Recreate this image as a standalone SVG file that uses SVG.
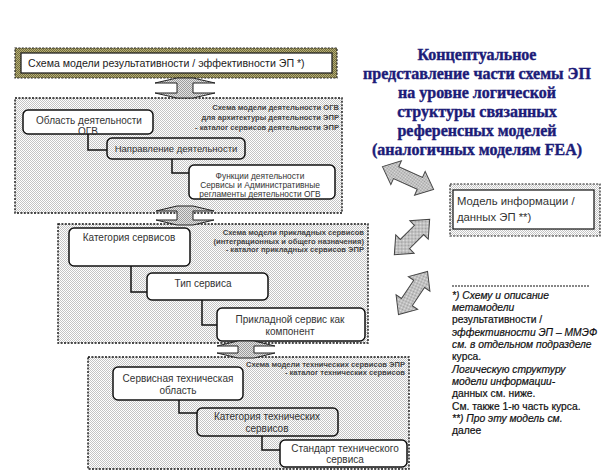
<svg xmlns="http://www.w3.org/2000/svg" width="610" height="471" viewBox="0 0 610 471">
<defs>
<pattern id="dots" width="2" height="2" patternUnits="userSpaceOnUse"><rect width="2" height="2" fill="#fff"/><rect width="1" height="1" fill="#c4c4c4"/><rect x="1" y="1" width="1" height="1" fill="#c4c4c4"/></pattern>
<pattern id="olive" width="2" height="2" patternUnits="userSpaceOnUse"><rect width="2" height="2" fill="#b4ad78"/><rect width="1" height="1" fill="#746e3c"/><rect x="1" y="1" width="1" height="1" fill="#746e3c"/></pattern>
<pattern id="grey" width="2" height="2" patternUnits="userSpaceOnUse"><rect width="2" height="2" fill="#e4e4e4"/><rect width="1" height="1" fill="#9c9c9c"/><rect x="1" y="1" width="1" height="1" fill="#9c9c9c"/></pattern>
<style>
.panel{fill:url(#dots);stroke:#111;stroke-width:1.4;stroke-dasharray:2 1.4}
.box{fill:#fff;stroke:#111;stroke-width:1.5}
.boxd{fill:url(#dots);stroke:#111;stroke-width:1.5}
.lbl{font-family:"Liberation Sans",Arial,sans-serif;font-size:10px;fill:#333;text-anchor:middle}
.ttl{font-family:"Liberation Sans",Arial,sans-serif;font-size:7.6px;font-weight:bold;fill:#444;text-anchor:end}
.conn{fill:none;stroke:#111;stroke-width:1.5}
.varr{fill:url(#grey);stroke:#222;stroke-width:1}
.darr{fill:url(#grey);stroke:#444;stroke-width:1}
.head{font-family:"Liberation Serif","Times New Roman",serif;font-size:16px;font-weight:bold;fill:#1c1c78;stroke:#1c1c78;stroke-width:0.4;text-anchor:middle}
.note{font-family:"Liberation Sans",Arial,sans-serif;font-size:10.3px;fill:#111;stroke:#111;stroke-width:0.2}
</style>
</defs>

<g id="top-model">
<rect x="15" y="48" width="322" height="30" fill="url(#olive)" stroke="#222" stroke-width="1.2" stroke-dasharray="2 1.4"/>
<rect x="21" y="53" width="311" height="20" fill="#fff" stroke="#222" stroke-width="1.3"/>
<text x="28" y="67" style="font-family:'Liberation Sans',Arial,sans-serif;font-size:10.6px;fill:#222">Схема модели результативности / эффективности ЭП *)</text>
</g>

<g id="panel-activity">
<rect class="panel" x="15" y="98" width="327" height="115"/>
<text class="ttl" x="339" y="110">Схема  модели деятельности ОГВ</text>
<text class="ttl" x="339" y="120">для архитектуры  деятельности ЭПР</text>
<text class="ttl" x="339" y="130">- каталог сервисов деятельности ЭПР</text>
</g>
<g id="n-oblast">
<rect class="box" x="23" y="110" width="130" height="24" rx="5"/>
<text class="lbl" x="89" y="124">Область деятельности</text>
<text class="lbl" x="88" y="135">ОГВ</text>
</g>
<g id="n-napravlenie">
<rect class="boxd" x="107" y="138" width="138" height="21" rx="5"/>
<text class="lbl" x="176" y="152" style="font-size:9.5px">Направление  деятельности</text>
</g>
<g id="n-funkcii">
<rect class="box" x="189" y="165" width="146" height="34" rx="5"/>
<text class="lbl" x="260" y="179" style="font-size:8.4px">Функции деятельности</text>
<text class="lbl" x="260" y="188" style="font-size:8.4px">Сервисы и  Административные</text>
<text class="lbl" x="260" y="197" style="font-size:8.4px">регламенты  деятельности   ОГВ</text>
</g>

<g id="panel-apps">
<rect class="panel" x="58" y="224" width="310" height="119"/>
<text class="ttl" x="364" y="235">Схема  модели прикладных сервисов</text>
<text class="ttl" x="364" y="244">(интеграционных  и общего назначения)</text>
<text class="ttl" x="364" y="252">- каталог прикладных сервисов ЭПР</text>
</g>
<g id="n-kategoriya">
<rect class="box" x="69" y="228" width="121" height="38" rx="5"/>
<text class="lbl" x="129" y="241">Категория сервисов</text>
</g>
<g id="n-tip">
<rect class="box" x="147" y="273" width="121" height="27" rx="5"/>
<text class="lbl" x="203" y="287">Тип  сервиса</text>
</g>
<g id="n-prikladnoy">
<rect class="box" x="217" y="308" width="148" height="33" rx="5"/>
<text class="lbl" x="290" y="323">Прикладной  сервис как</text>
<text class="lbl" x="290" y="335">компонент</text>
</g>

<g id="panel-tech">
<rect class="panel" x="88" y="357" width="321" height="112"/>
<text class="ttl" x="405" y="367">Схема  модели технических сервисов ЭПР</text>
<text class="ttl" x="405" y="375">- каталог технических сервисов</text>
</g>
<g id="n-oblast-tech">
<rect class="box" x="113" y="367" width="130" height="33" rx="5"/>
<text class="lbl" x="178" y="382">Сервисная техническая</text>
<text class="lbl" x="178" y="394">область</text>
</g>
<g id="n-kategoriya-tech">
<rect class="boxd" x="197" y="408" width="141" height="28" rx="5"/>
<text class="lbl" x="267" y="420">Категория технических</text>
<text class="lbl" x="267" y="432">сервисов</text>
</g>
<g id="n-standart">
<rect class="box" x="280" y="440" width="127" height="27" rx="5"/>
<text class="lbl" x="345" y="452">Стандарт технического</text>
<text class="lbl" x="345" y="463">сервиса</text>
</g>

<g id="heading">
<text class="head" x="477" y="60">Концептуальное</text>
<text class="head" x="477" y="79">представление части схемы ЭП</text>
<text class="head" x="477" y="98">на уровне логической</text>
<text class="head" x="477" y="117">структуры  связанных</text>
<text class="head" x="477" y="136">референсных моделей</text>
<text class="head" x="477" y="155">(аналогичных моделям FEA)</text>
</g>

<g id="n-info-model">
<rect x="450" y="184" width="150" height="52" fill="url(#dots)" stroke="#222" stroke-width="1.2" stroke-dasharray="2 1.4"/>
<rect x="453" y="190" width="141" height="39" fill="#fff" stroke="#222" stroke-width="1.3"/>
<text x="457" y="205" style="font-family:'Liberation Sans',Arial,sans-serif;font-size:11.3px;fill:#333">Модель информации /</text>
<text x="457" y="221" style="font-family:'Liberation Sans',Arial,sans-serif;font-size:11.3px;fill:#333">данных ЭП **)</text>
</g>

<g id="footnote">
<line x1="452" y1="286" x2="590" y2="286" stroke="#111" stroke-width="1.2" stroke-dasharray="2 1"/>
<text class="note" x="452" y="299" font-style="italic">*)  Схему и описание</text>
<text class="note" x="452" y="311" font-style="italic">метамодели</text>
<text class="note" x="452" y="323">результативности /</text>
<text class="note" x="452" y="336" font-style="italic">эффективности ЭП – ММЭФ</text>
<text class="note" x="452" y="348" font-style="italic">см. в отдельном подразделе</text>
<text class="note" x="452" y="360">курса.</text>
<text class="note" x="452" y="373" font-style="italic">Логическую структуру</text>
<text class="note" x="452" y="385" font-style="italic">модели информации-</text>
<text class="note" x="452" y="397">данных см. ниже.</text>
<text class="note" x="452" y="410">См. также 1-ю часть курса.</text>
<text class="note" x="452" y="422" font-style="italic">**)  Про эту модель см.</text>
<text class="note" x="452" y="434">далее</text>
</g>

<g id="connectors">
<polyline class="conn" points="88,134 88,150 107,150"/>
<polyline class="conn" points="172,159 172,173 189,173"/>
<polyline class="conn" points="131,266 131,292 147,292"/>
<polyline class="conn" points="202,300 202,325 217,325"/>
<polyline class="conn" points="179,400 179,413 197,413"/>
<polyline class="conn" points="262,436 262,450 280,450"/>
<polygon class="varr" points="177,78 193,78 215,83 193,83 193,93 215,93 193,98 177,98 155,93 177,93 177,83 155,83"/>
<polygon class="varr" points="177,206 193,206 214,211 193,211 193,220 214,220 193,225 177,225 156,220 177,220 177,211 156,211"/>
<polygon class="varr" points="238,341 254,341 275,346 254,346 254,353 275,353 254,358 238,358 217,353 238,353 238,346 217,346"/>
<polygon class="darr" transform="translate(408,178) rotate(24)" points="-28,0 -13,-13 -13,-6.5 13,-6.5 13,-13 28,0 13,13 13,6.5 -13,6.5 -13,13"/>
<polygon class="darr" transform="translate(412,237) rotate(-45)" points="-25,0 -10,-13 -10,-6.5 10,-6.5 10,-13 25,0 10,13 10,6.5 -10,6.5 -10,13"/>
<polygon class="darr" transform="translate(413,293) rotate(-56)" points="-26,0 -11,-13 -11,-6.5 11,-6.5 11,-13 26,0 11,13 11,6.5 -11,6.5 -11,13"/>
</g>
</svg>
